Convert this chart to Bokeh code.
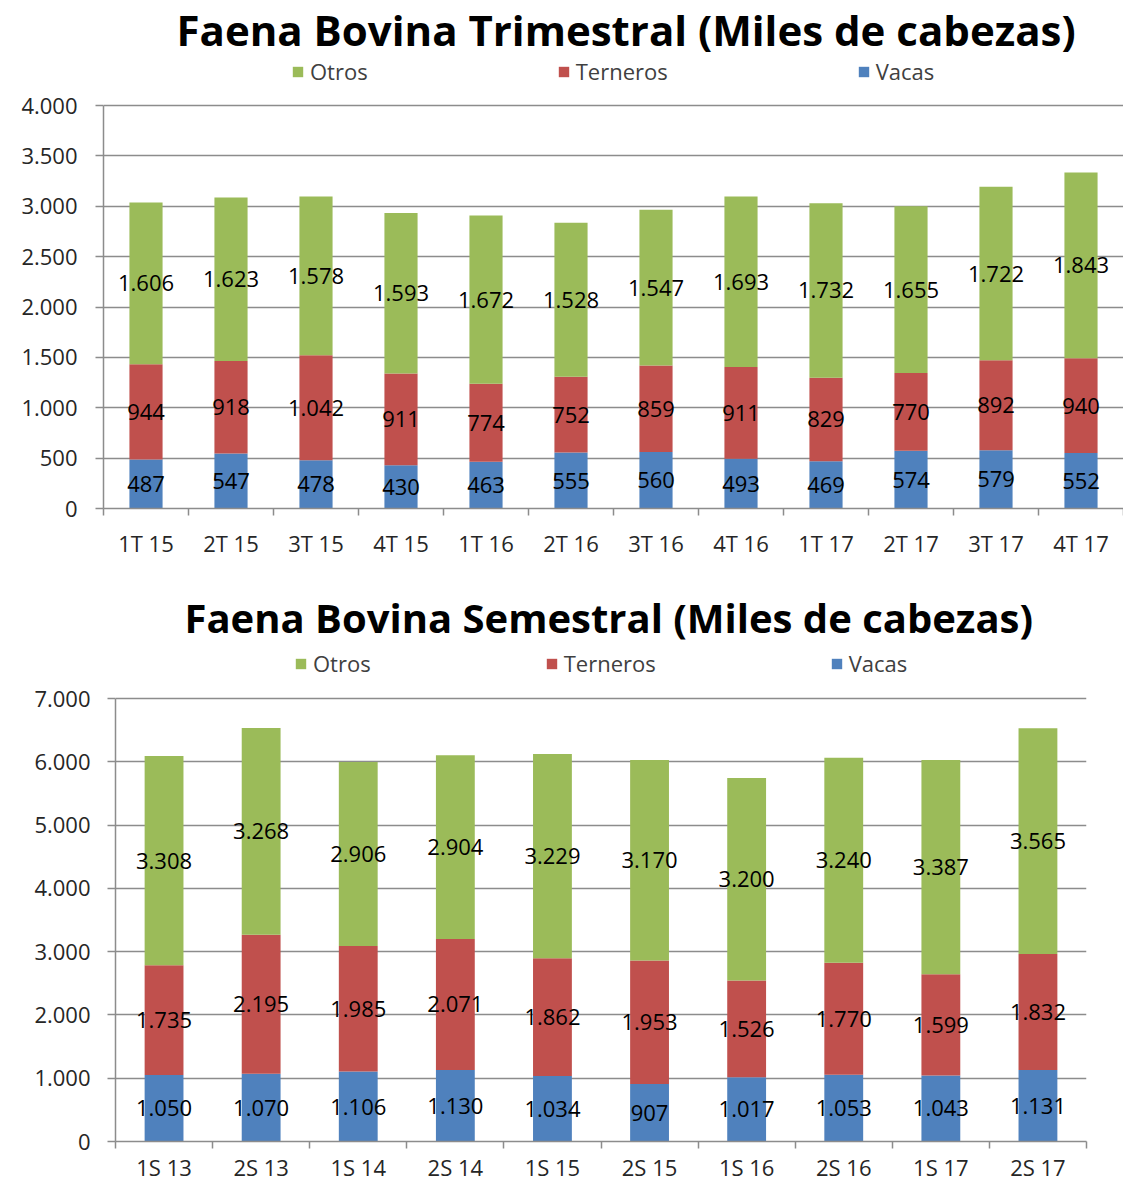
from bokeh.plotting import figure
from bokeh.models import FixedTicker, Legend, LegendItem, Range1d, ColumnDataSource
from bokeh.layouts import column, row
from bokeh.embed import file_html
from bokeh.resources import INLINE
from bokeh.core.properties import value

# ---------------- data ----------------
trim_title = "Faena Bovina Trimestral (Miles de cabezas)"
trim_categories = ["1T 15", "2T 15", "3T 15", "4T 15", "1T 16", "2T 16",
                   "3T 16", "4T 16", "1T 17", "2T 17", "3T 17", "4T 17"]
trim_vacas = [487, 547, 478, 430, 463, 555, 560, 493, 469, 574, 579, 552]
trim_terneros = [944, 918, 1042, 911, 774, 752, 859, 911, 829, 770, 892, 940]
trim_otros = [1606, 1623, 1578, 1593, 1672, 1528, 1547, 1693, 1732, 1655, 1722, 1843]
trim_yticks = [0, 500, 1000, 1500, 2000, 2500, 3000, 3500, 4000]
trim_ylabels = ["0", "500", "1.000", "1.500", "2.000", "2.500", "3.000", "3.500", "4.000"]

sem_title = "Faena Bovina Semestral (Miles de cabezas)"
sem_categories = ["1S 13", "2S 13", "1S 14", "2S 14", "1S 15",
                  "2S 15", "1S 16", "2S 16", "1S 17", "2S 17"]
sem_vacas = [1050, 1070, 1106, 1130, 1034, 907, 1017, 1053, 1043, 1131]
sem_terneros = [1735, 2195, 1985, 2071, 1862, 1953, 1526, 1770, 1599, 1832]
sem_otros = [3308, 3268, 2906, 2904, 3229, 3170, 3200, 3240, 3387, 3565]
sem_yticks = [0, 1000, 2000, 3000, 4000, 5000, 6000, 7000]
sem_ylabels = ["0", "1.000", "2.000", "3.000", "4.000", "5.000", "6.000", "7.000"]

series_names = ["Otros", "Terneros", "Vacas"]
COL_VACAS = "#4F81BD"
COL_TERN = "#C0504D"
COL_OTROS = "#9BBB59"

FONT = "Open Sans"
GRID = "#8c8c8c"


def fmt(v):
    return f"{v:,}".replace(",", ".")


def make_chart(title, cats, vacas, terneros, otros, yticks, ylabels,
               width, height, b_left, b_right, b_top, b_bottom,
               data_h, legend_x, legend_center, legend_spacing,
               title_size, title_offset, title_standoff, x_standoff, y_standoff, bar_w):
    n = len(cats)
    xs = list(range(n))
    frame_h = height - b_top - b_bottom
    # the frame is taller than the data area so the legend sits inside it
    y_end = yticks[-1] * frame_h / data_h
    p = figure(width=width, height=height, output_backend="svg",
               toolbar_location=None,
               x_range=Range1d(-0.5, n - 0.5),
               y_range=Range1d(yticks[0], y_end),
               min_border_left=b_left, min_border_right=b_right,
               min_border_top=b_top, min_border_bottom=b_bottom)
    p.outline_line_color = None
    p.background_fill_color = "white"
    p.border_fill_color = "white"

    p.title.text = title
    p.title.text_font = FONT
    p.title.text_font_style = "bold"
    p.title.text_font_size = title_size
    p.title.text_color = "black"
    p.title.align = "left"
    p.title.offset = title_offset
    p.title.standoff = title_standoff

    src = ColumnDataSource(dict(
        x=xs, vacas=vacas, terneros=terneros, otros=otros,
        y_v=[v / 2 for v in vacas],
        y_t=[v + t / 2 for v, t in zip(vacas, terneros)],
        y_o=[v + t + o / 2 for v, t, o in zip(vacas, terneros, otros)],
        l_v=[fmt(v) for v in vacas],
        l_t=[fmt(t) for t in terneros],
        l_o=[fmt(o) for o in otros],
    ))
    rs = p.vbar_stack(["vacas", "terneros", "otros"], x="x", width=bar_w,
                      color=[COL_VACAS, COL_TERN, COL_OTROS],
                      line_color=None, source=src)
    for col, lab in (("y_v", "l_v"), ("y_t", "l_t"), ("y_o", "l_o")):
        p.text(x="x", y=col, text=lab, source=src, text_align="center",
               text_baseline="middle", text_font=value(FONT),
               text_font_size="22px", text_color="black")

    # axes
    xa = p.xaxis[0]
    xa.ticker = FixedTicker(ticks=xs, minor_ticks=[i - 0.5 for i in range(n + 1)])
    xa.major_label_overrides = {i: c for i, c in enumerate(cats)}
    xa.major_tick_out = 0
    xa.major_tick_in = 0
    xa.minor_tick_out = 7
    xa.minor_tick_in = 0
    xa.minor_tick_line_color = GRID
    xa.minor_tick_line_width = 1.5
    xa.axis_line_color = GRID
    xa.axis_line_width = 1.5
    xa.major_label_text_font = FONT
    xa.major_label_text_font_size = "22px"
    xa.major_label_text_color = "#262626"
    xa.major_label_standoff = x_standoff

    ya = p.yaxis[0]
    ya.ticker = FixedTicker(ticks=yticks)
    ya.bounds = (yticks[0], yticks[-1])
    ya.major_label_overrides = {t: l for t, l in zip(yticks, ylabels)}
    ya.major_tick_out = 8
    ya.major_tick_in = 0
    ya.minor_tick_out = 0
    ya.minor_tick_in = 0
    ya.major_tick_line_color = GRID
    ya.major_tick_line_width = 1.5
    ya.axis_line_color = GRID
    ya.axis_line_width = 1.5
    ya.major_label_text_font = FONT
    ya.major_label_text_font_size = "22px"
    ya.major_label_text_color = "#262626"
    ya.major_label_standoff = y_standoff

    p.xgrid.grid_line_color = None
    p.ygrid.ticker = FixedTicker(ticks=yticks)
    p.ygrid.grid_line_color = GRID
    p.ygrid.grid_line_width = 1.5

    items = [LegendItem(label=series_names[0], renderers=[rs[2]]),
             LegendItem(label=series_names[1], renderers=[rs[1]]),
             LegendItem(label=series_names[2], renderers=[rs[0]])]
    leg = Legend(items=items, orientation="horizontal",
                 location=(legend_x, frame_h - legend_center - 15),
                 spacing=legend_spacing, glyph_width=13, glyph_height=13,
                 label_standoff=6, label_height=30, padding=0, margin=0,
                 border_line_color=None, background_fill_alpha=0,
                 label_text_font=FONT, label_text_font_size="22px",
                 label_text_color="#404040")
    p.add_layout(leg)
    return p


p1 = make_chart(trim_title, trim_categories, trim_vacas, trim_terneros, trim_otros,
                trim_yticks, trim_ylabels,
                width=1123, height=561, b_left=103, b_right=0, b_top=52, b_bottom=53,
                data_h=403, legend_x=188, legend_center=19, legend_spacing=189,
                title_size="42px", title_offset=73, title_standoff=-11,
                x_standoff=12, y_standoff=18, bar_w=0.39)
p2 = make_chart(sem_title, sem_categories, sem_vacas, sem_terneros, sem_otros,
                sem_yticks, sem_ylabels,
                width=1123, height=623, b_left=115, b_right=37, b_top=80, b_bottom=43,
                data_h=443, legend_x=179, legend_center=22, legend_spacing=174,
                title_size="40px", title_offset=69, title_standoff=-6,
                x_standoff=3, y_standoff=17, bar_w=0.4)

layout = column(row(p1), row(p2), spacing=0)
open("out.html", "w").write(file_html(layout, INLINE))
